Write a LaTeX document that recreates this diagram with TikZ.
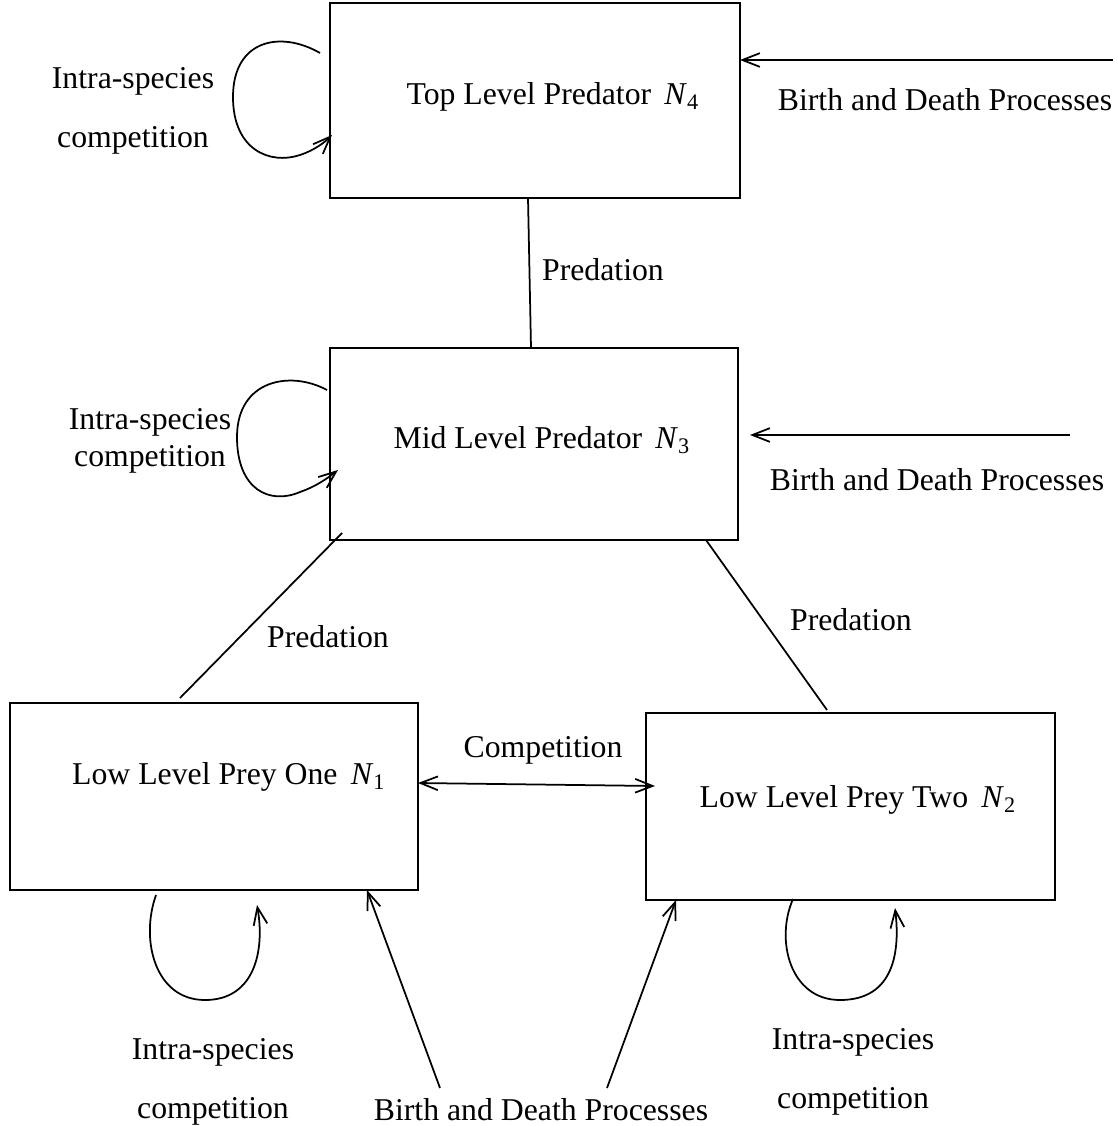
\documentclass[tikz,border=0pt]{standalone}
\usepackage{fontspec}
\setmainfont{Liberation Serif}
\usetikzlibrary{calc,arrows.meta}

\begin{document}
\begin{tikzpicture}[x=0.4pt,y=-0.4pt,every node/.style={font=\fontsize{12.7}{15}\selectfont},
  box/.style={draw,rectangle,inner sep=0pt},line width=0.7pt,>={Straight Barb[length=7pt,width=5.5pt]}]
  \useasboundingbox (0,0) rectangle (1118,1126);
  % boxes
  \node[box,minimum width=164pt,minimum height=78pt] (top) at (535,100.5) {};
  \node[box,minimum width=163.2pt,minimum height=76.8pt] (mid) at (534,444) {};
  \node[box,minimum width=163.2pt,minimum height=74.8pt] (low1) at (214,796.5) {};
  \node[box,minimum width=163.6pt,minimum height=74.8pt] (low2) at (850.5,806.5) {};
  \node (ttop) at (553,97) {Top Level Predator~\,\textit{N}\textsubscript{4}};
  \node (tmid) at (542,440) {Mid Level Predator~\,\textit{N}\textsubscript{3}};
  \node (tlow1) at (229,777) {Low Level Prey One~\,\textit{N}\textsubscript{1}};
  \node (tlow2) at (858,800) {Low Level Prey Two~\,\textit{N}\textsubscript{2}};
  % labels
  \node (pr1) at (603,270) {Predation};
  \node (pr2) at (328,637) {Predation};
  \node (pr3) at (851,620) {Predation};
  \node (comp) at (543,750) {Competition};
  \node (bd4) at (945,100) {Birth and Death Processes};
  \node (bd3) at (937,480) {Birth and Death Processes};
  \node (bd12) at (541,1110) {Birth and Death Processes};
  \node[align=center] (ic4) at (133,111) {Intra-species\\[8.6pt]competition};
  \node[align=center] (ic3) at (150,441) {Intra-species\\competition};
  \node[align=center] (ic1) at (213,1082) {Intra-species\\[8.6pt]competition};
  \node[align=center] (ic2) at (853,1072) {Intra-species\\[8.6pt]competition};
  % free ends
  \coordinate (s4) at (1113,60);
  \coordinate (e4) at (740,60);
  \coordinate (s3) at (1070,435);
  \coordinate (e3) at (750,435);
  \coordinate (s1) at (440,1088);
  \coordinate (e1) at (367,890);
  \coordinate (s2) at (607,1088);
  \coordinate (e2) at (676,900);
  % predation and competition
  \draw (528,198) -- (531,348);
  \draw (mid.south west) ++(13,-8) -- (180,698);
  \draw (706,540) -- (827,710);
  \draw[<->] (418,783) -- (655,786);
  % birth and death
  \draw[->] (s4) -- (e4);
  \draw[->] (s3) -- (e3);
  \draw[->] (s1) -- (e1);
  \draw[->] (s2) -- (e2);
  % intra-species loops
  \draw[->] (320,53) .. controls (280,30) and (233,40) .. (233,97) .. controls (233,150) and (270,165) .. (300,155) .. controls (315,150) and (325,142) .. (332,135);
  \draw[->] (327,390) .. controls (290,370) and (237,380) .. (237,437) .. controls (237,490) and (270,505) .. (300,492) .. controls (315,487) and (328,478) .. (338,470);
  \draw[->] (156,895) .. controls (140,940) and (155,1000) .. (205,1000) .. controls (255,1000) and (265,950) .. (257,905);
  \draw[->] (793,899) .. controls (775,940) and (790,1000) .. (840,1000) .. controls (895,1000) and (900,950) .. (895,908);
\end{tikzpicture}
\end{document}
